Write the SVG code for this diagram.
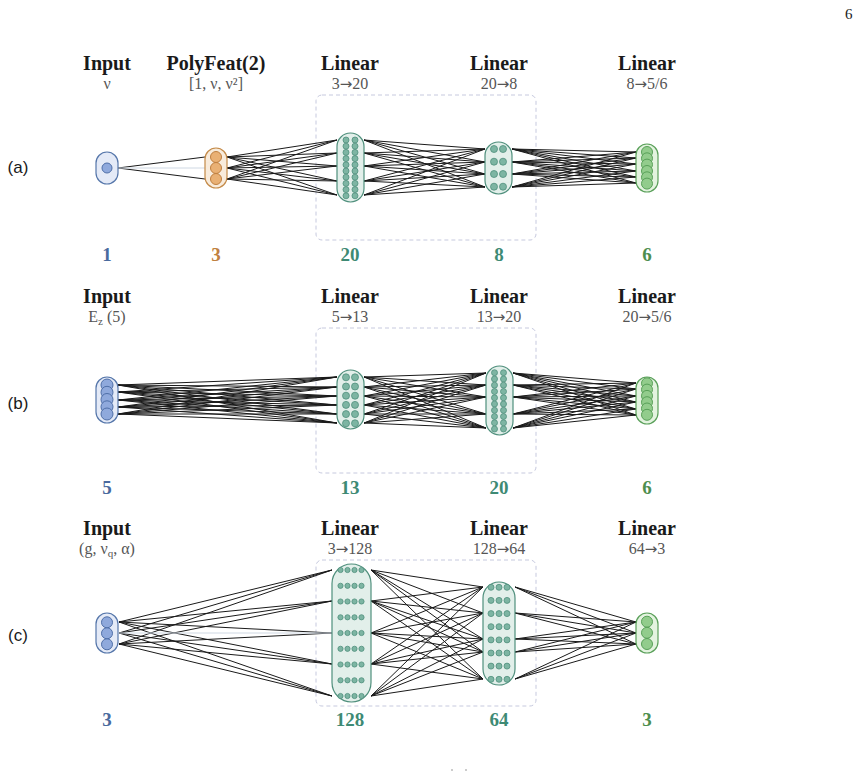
<svg xmlns="http://www.w3.org/2000/svg" width="861" height="771" viewBox="0 0 861 771">
<style>
.ttl{font-family:"Liberation Serif","DejaVu Serif",serif;font-weight:bold;font-size:20px;fill:#1a1a1a;text-anchor:middle}
.sub{font-family:"Liberation Serif","DejaVu Serif",serif;font-size:16px;fill:#555;text-anchor:middle}
.ar{font-family:"DejaVu Sans",sans-serif;font-size:15px}
.num{font-family:"Liberation Serif","DejaVu Serif",serif;font-weight:bold;font-size:19px;text-anchor:middle}
.pl{font-family:"Liberation Sans","DejaVu Sans",sans-serif;font-size:17px;fill:#1a1a1a;text-anchor:middle}
.pg{font-family:"Liberation Serif","DejaVu Serif",serif;font-size:15px;fill:#1a1a1a}
.box{fill:none;stroke:#c6c9de;stroke-width:1;stroke-dasharray:4 3}
.w{fill:none;stroke:#1a1a1a;stroke-width:1}
.wl{fill:none;stroke:#cfd8e3;stroke-width:1}
.ci{fill:#e4eaf7;stroke:#5576aa;stroke-width:1.2}
.ni{fill:#8fa9dc;stroke:#4f6fa8;stroke-width:1}
.cp{fill:#f8ebdb;stroke:#c48a48;stroke-width:1.2}
.np{fill:#e9b074;stroke:#c08040;stroke-width:1}
.cl{fill:#e2efea;stroke:#4f8f7c;stroke-width:1.2}
.nl{fill:#7db5a3;stroke:#4f8f7c;stroke-width:0.8}
.co{fill:#e3f3df;stroke:#5aa05a;stroke-width:1.2}
.no{fill:#92cc8c;stroke:#58a058;stroke-width:1}
.blue{fill:#4a6a9e}.orange{fill:#c08040}.teal{fill:#3e8a74}.green{fill:#4e8e4e}
</style>
<rect width="861" height="771" fill="#fff"/>
<text class="pg" x="845" y="19">6</text>

<!-- panel labels -->
<text class="pl" x="18" y="173">(a)</text>
<text class="pl" x="18" y="409">(b)</text>
<text class="pl" x="18" y="641">(c)</text>

<!-- dashed boxes -->
<rect class="box" x="316" y="95" width="220" height="145" rx="6"/>
<rect class="box" x="316" y="328" width="220" height="145" rx="6"/>
<rect class="box" x="316" y="560" width="220" height="146" rx="6"/>

<g id="connectors">
<!-- (a) -->
<path class="w" d="M118 168L205 157M118 168L205 179"/>
<path class="wl" d="M118 168L205 168"/>
<path class="w" d="M227 157L337 140M227 157L337 153M227 157L337 166M227 157L337 181M227 157L337 195M227 168L337 140M227 168L337 153M227 168L337 166M227 168L337 181M227 168L337 195M227 179L337 140M227 179L337 153M227 179L337 166M227 179L337 181M227 179L337 195"/>
<path class="w" d="M364 140L485 149M364 140L485 162M364 140L485 174M364 140L485 187M364 153L485 149M364 153L485 162M364 153L485 174M364 153L485 187M364 166L485 149M364 166L485 162M364 166L485 174M364 166L485 187M364 181L485 149M364 181L485 162M364 181L485 174M364 181L485 187M364 195L485 149M364 195L485 162M364 195L485 174M364 195L485 187"/>
<path class="w" d="M512 149L636 152M512 149L636 158M512 149L636 164M512 149L636 171M512 149L636 177M512 149L636 183M512 162L636 152M512 162L636 158M512 162L636 164M512 162L636 171M512 162L636 177M512 162L636 183M512 174L636 152M512 174L636 158M512 174L636 164M512 174L636 171M512 174L636 177M512 174L636 183M512 187L636 152M512 187L636 158M512 187L636 164M512 187L636 171M512 187L636 177M512 187L636 183"/>
<!-- (b) -->
<path class="w" d="M118 385L337 377M118 385L337 387M118 385L337 396M118 385L337 405M118 385L337 414M118 385L337 423M118 392L337 377M118 392L337 387M118 392L337 396M118 392L337 405M118 392L337 414M118 392L337 423M118 400L337 377M118 400L337 387M118 400L337 396M118 400L337 405M118 400L337 414M118 400L337 423M118 407L337 377M118 407L337 387M118 407L337 396M118 407L337 405M118 407L337 414M118 407L337 423M118 414L337 377M118 414L337 387M118 414L337 396M118 414L337 405M118 414L337 414M118 414L337 423"/>
<path class="w" d="M364 377L486 373M364 377L486 385M364 377L486 397M364 377L486 414M364 377L486 428M364 387L486 373M364 387L486 385M364 387L486 397M364 387L486 414M364 387L486 428M364 396L486 373M364 396L486 385M364 396L486 397M364 396L486 414M364 396L486 428M364 405L486 373M364 405L486 385M364 405L486 397M364 405L486 414M364 405L486 428M364 414L486 373M364 414L486 385M364 414L486 397M364 414L486 414M364 414L486 428M364 423L486 373M364 423L486 385M364 423L486 397M364 423L486 414M364 423L486 428"/>
<path class="w" d="M513 373L636 383M513 373L636 389M513 373L636 396M513 373L636 402M513 373L636 409M513 373L636 415M513 385L636 383M513 385L636 389M513 385L636 396M513 385L636 402M513 385L636 409M513 385L636 415M513 397L636 383M513 397L636 389M513 397L636 396M513 397L636 402M513 397L636 409M513 397L636 415M513 414L636 383M513 414L636 389M513 414L636 396M513 414L636 402M513 414L636 409M513 414L636 415M513 428L636 383M513 428L636 389M513 428L636 396M513 428L636 402M513 428L636 409M513 428L636 415"/>
<!-- (c) -->
<path class="w" d="M119 622L332 570M119 622L332 601M119 622L332 633M119 622L332 664M119 622L332 696M119 633L332 570M119 633L332 601M119 633L332 664M119 633L332 696M119 644L332 570M119 644L332 601M119 644L332 633M119 644L332 664M119 644L332 696"/>
<path class="wl" d="M119 633L332 633"/>
<path class="w" d="M371 570L483 587M371 570L483 613M371 570L483 639M371 570L483 652M371 570L483 679M371 601L483 587M371 601L483 613M371 601L483 639M371 601L483 652M371 601L483 679M371 633L483 587M371 633L483 613M371 633L483 639M371 633L483 652M371 633L483 679M371 664L483 587M371 664L483 613M371 664L483 639M371 664L483 652M371 664L483 679M371 696L483 587M371 696L483 613M371 696L483 639M371 696L483 652M371 696L483 679"/>
<path class="w" d="M515 587L636 622M515 587L636 633M515 587L636 644M515 613L636 622M515 613L636 633M515 613L636 644M515 639L636 622M515 639L636 633M515 639L636 644M515 652L636 622M515 652L636 633M515 652L636 644M515 679L636 622M515 679L636 633M515 679L636 644"/>
</g>

<!-- ===== Panel (a) ===== -->
<g id="a-input">
<text class="ttl" x="107" y="70">Input</text>
<text class="sub" x="107" y="89">ν</text>
<rect class="ci" x="96" y="152" width="22" height="32" rx="11"/>
<circle class="ni" cx="107" cy="168" r="5"/>
<text class="num blue" x="107" y="261">1</text>
</g>
<g id="a-poly">
<text class="ttl" x="216" y="70">PolyFeat(2)</text>
<text class="sub" x="216" y="89">[1, ν, ν²]</text>
<rect class="cp" x="205" y="148" width="22" height="40" rx="11"/>
<circle class="np" cx="216" cy="157" r="5.5"/>
<circle class="np" cx="216" cy="168" r="5.5"/>
<circle class="np" cx="216" cy="179" r="5.5"/>
<text class="num orange" x="216" y="261">3</text>
</g>
<g id="a-lin1">
<text class="ttl" x="350" y="70">Linear</text>
<text class="sub" x="350" y="89">3<tspan class="ar">→</tspan>20</text>
<rect class="cl" x="337" y="133" width="27" height="69" rx="13.5"/>
<g class="nl">
<circle cx="346" cy="140" r="3"/><circle cx="355" cy="140" r="3"/>
<circle cx="346" cy="146.2" r="3"/><circle cx="355" cy="146.2" r="3"/>
<circle cx="346" cy="152.4" r="3"/><circle cx="355" cy="152.4" r="3"/>
<circle cx="346" cy="158.6" r="3"/><circle cx="355" cy="158.6" r="3"/>
<circle cx="346" cy="164.8" r="3"/><circle cx="355" cy="164.8" r="3"/>
<circle cx="346" cy="171" r="3"/><circle cx="355" cy="171" r="3"/>
<circle cx="346" cy="177.2" r="3"/><circle cx="355" cy="177.2" r="3"/>
<circle cx="346" cy="183.4" r="3"/><circle cx="355" cy="183.4" r="3"/>
<circle cx="346" cy="189.6" r="3"/><circle cx="355" cy="189.6" r="3"/>
<circle cx="346" cy="195.8" r="3"/><circle cx="355" cy="195.8" r="3"/>
</g>
<text class="num teal" x="350" y="261">20</text>
</g>
<g id="a-lin2">
<text class="ttl" x="499" y="70">Linear</text>
<text class="sub" x="499" y="89">20<tspan class="ar">→</tspan>8</text>
<rect class="cl" x="485" y="142" width="27" height="52" rx="13.5"/>
<g class="nl">
<circle cx="494" cy="149" r="3.5"/><circle cx="503" cy="149" r="3.5"/>
<circle cx="494" cy="161.7" r="3.5"/><circle cx="503" cy="161.7" r="3.5"/>
<circle cx="494" cy="174" r="3.5"/><circle cx="503" cy="174" r="3.5"/>
<circle cx="494" cy="186.7" r="3.5"/><circle cx="503" cy="186.7" r="3.5"/>
</g>
<text class="num teal" x="499" y="261">8</text>
</g>
<g id="a-lin3">
<text class="ttl" x="647" y="70">Linear</text>
<text class="sub" x="647" y="89">8<tspan class="ar">→</tspan>5/6</text>
<rect class="co" x="636" y="144" width="22" height="48" rx="11"/>
<g class="no">
<circle cx="647" cy="152" r="5.5"/><circle cx="647" cy="158.3" r="5.5"/><circle cx="647" cy="164.6" r="5.5"/>
<circle cx="647" cy="171" r="5.5"/><circle cx="647" cy="177.3" r="5.5"/><circle cx="647" cy="183.6" r="5.5"/>
</g>
<text class="num green" x="647" y="261">6</text>
</g>

<!-- ===== Panel (b) ===== -->
<g id="b-input">
<text class="ttl" x="107" y="303">Input</text>
<text class="sub" x="107" y="322">E<tspan font-size="11" dy="3">z</tspan><tspan dy="-3"> (5)</tspan></text>
<rect class="ci" x="96" y="377" width="22" height="46" rx="11"/>
<g class="ni">
<circle cx="107" cy="385" r="6"/><circle cx="107" cy="392.3" r="6"/><circle cx="107" cy="399.5" r="6"/>
<circle cx="107" cy="406.8" r="6"/><circle cx="107" cy="414" r="6"/>
</g>
<text class="num blue" x="107" y="494">5</text>
</g>
<g id="b-lin1">
<text class="ttl" x="350" y="303">Linear</text>
<text class="sub" x="350" y="322">5<tspan class="ar">→</tspan>13</text>
<rect class="cl" x="337" y="370" width="27" height="59" rx="13.5"/>
<g class="nl">
<circle cx="346" cy="377.3" r="3.5"/><circle cx="355" cy="377.3" r="3.5"/>
<circle cx="346" cy="386.5" r="3.5"/><circle cx="355" cy="386.5" r="3.5"/>
<circle cx="346" cy="395.7" r="3.5"/><circle cx="355" cy="395.7" r="3.5"/>
<circle cx="346" cy="404.9" r="3.5"/><circle cx="355" cy="404.9" r="3.5"/>
<circle cx="346" cy="414.1" r="3.5"/><circle cx="355" cy="414.1" r="3.5"/>
<circle cx="346" cy="423.3" r="3.5"/><circle cx="355" cy="423.3" r="3.5"/>
</g>
<text class="num teal" x="350" y="494">13</text>
</g>
<g id="b-lin2">
<text class="ttl" x="499" y="303">Linear</text>
<text class="sub" x="499" y="322">13<tspan class="ar">→</tspan>20</text>
<rect class="cl" x="486" y="366" width="27" height="69" rx="13.5"/>
<g class="nl">
<circle cx="494.5" cy="372.7" r="3"/><circle cx="503.5" cy="372.7" r="3"/>
<circle cx="494.5" cy="379" r="3"/><circle cx="503.5" cy="379" r="3"/>
<circle cx="494.5" cy="385.2" r="3"/><circle cx="503.5" cy="385.2" r="3"/>
<circle cx="494.5" cy="391.5" r="3"/><circle cx="503.5" cy="391.5" r="3"/>
<circle cx="494.5" cy="397.8" r="3"/><circle cx="503.5" cy="397.8" r="3"/>
<circle cx="494.5" cy="404" r="3"/><circle cx="503.5" cy="404" r="3"/>
<circle cx="494.5" cy="410.3" r="3"/><circle cx="503.5" cy="410.3" r="3"/>
<circle cx="494.5" cy="416.5" r="3"/><circle cx="503.5" cy="416.5" r="3"/>
<circle cx="494.5" cy="422.8" r="3"/><circle cx="503.5" cy="422.8" r="3"/>
<circle cx="494.5" cy="429" r="3"/><circle cx="503.5" cy="429" r="3"/>
</g>
<text class="num teal" x="499" y="494">20</text>
</g>
<g id="b-lin3">
<text class="ttl" x="647" y="303">Linear</text>
<text class="sub" x="647" y="322">20<tspan class="ar">→</tspan>5/6</text>
<rect class="co" x="636" y="377" width="22" height="47" rx="11"/>
<g class="no">
<circle cx="647" cy="383.3" r="5.5"/><circle cx="647" cy="389.6" r="5.5"/><circle cx="647" cy="395.9" r="5.5"/>
<circle cx="647" cy="402.2" r="5.5"/><circle cx="647" cy="408.5" r="5.5"/><circle cx="647" cy="414.8" r="5.5"/>
</g>
<text class="num green" x="647" y="494">6</text>
</g>

<!-- ===== Panel (c) ===== -->
<g id="c-input">
<text class="ttl" x="107" y="535">Input</text>
<text class="sub" x="107" y="554">(g, ν<tspan font-size="11" dy="3">q</tspan><tspan dy="-3">, α)</tspan></text>
<rect class="ci" x="96" y="613" width="22" height="40" rx="11"/>
<g class="ni">
<circle cx="107" cy="622.3" r="5.5"/><circle cx="107" cy="633.3" r="5.5"/><circle cx="107" cy="644.3" r="5.5"/>
</g>
<text class="num blue" x="107" y="726">3</text>
</g>
<g id="c-lin1">
<text class="ttl" x="350" y="535">Linear</text>
<text class="sub" x="350" y="554">3<tspan class="ar">→</tspan>128</text>
<rect class="cl" x="332" y="564" width="39" height="138" rx="19.5"/>
<g class="nl">
<circle cx="340.5" cy="570" r="2.6"/><circle cx="347.5" cy="570" r="2.6"/><circle cx="354.5" cy="570" r="2.6"/><circle cx="361.5" cy="570" r="2.6"/>
<circle cx="340.5" cy="585.8" r="2.6"/><circle cx="347.5" cy="585.8" r="2.6"/><circle cx="354.5" cy="585.8" r="2.6"/><circle cx="361.5" cy="585.8" r="2.6"/>
<circle cx="340.5" cy="601.5" r="2.6"/><circle cx="347.5" cy="601.5" r="2.6"/><circle cx="354.5" cy="601.5" r="2.6"/><circle cx="361.5" cy="601.5" r="2.6"/>
<circle cx="340.5" cy="617.3" r="2.6"/><circle cx="347.5" cy="617.3" r="2.6"/><circle cx="354.5" cy="617.3" r="2.6"/><circle cx="361.5" cy="617.3" r="2.6"/>
<circle cx="340.5" cy="633" r="2.6"/><circle cx="347.5" cy="633" r="2.6"/><circle cx="354.5" cy="633" r="2.6"/><circle cx="361.5" cy="633" r="2.6"/>
<circle cx="340.5" cy="648.8" r="2.6"/><circle cx="347.5" cy="648.8" r="2.6"/><circle cx="354.5" cy="648.8" r="2.6"/><circle cx="361.5" cy="648.8" r="2.6"/>
<circle cx="340.5" cy="664.5" r="2.6"/><circle cx="347.5" cy="664.5" r="2.6"/><circle cx="354.5" cy="664.5" r="2.6"/><circle cx="361.5" cy="664.5" r="2.6"/>
<circle cx="340.5" cy="680.3" r="2.6"/><circle cx="347.5" cy="680.3" r="2.6"/><circle cx="354.5" cy="680.3" r="2.6"/><circle cx="361.5" cy="680.3" r="2.6"/>
<circle cx="340.5" cy="696" r="2.6"/><circle cx="347.5" cy="696" r="2.6"/><circle cx="354.5" cy="696" r="2.6"/><circle cx="361.5" cy="696" r="2.6"/>
</g>
<text class="num teal" x="350" y="726">128</text>
</g>
<g id="c-lin2">
<text class="ttl" x="499" y="535">Linear</text>
<text class="sub" x="499" y="554">128<tspan class="ar">→</tspan>64</text>
<rect class="cl" x="483" y="582" width="32" height="103" rx="16"/>
<g class="nl">
<circle cx="491" cy="587.3" r="3"/><circle cx="499" cy="587.3" r="3"/><circle cx="507" cy="587.3" r="3"/>
<circle cx="491" cy="600.4" r="3"/><circle cx="499" cy="600.4" r="3"/><circle cx="507" cy="600.4" r="3"/>
<circle cx="491" cy="613.6" r="3"/><circle cx="499" cy="613.6" r="3"/><circle cx="507" cy="613.6" r="3"/>
<circle cx="491" cy="626.7" r="3"/><circle cx="499" cy="626.7" r="3"/><circle cx="507" cy="626.7" r="3"/>
<circle cx="491" cy="639.9" r="3"/><circle cx="499" cy="639.9" r="3"/><circle cx="507" cy="639.9" r="3"/>
<circle cx="491" cy="653" r="3"/><circle cx="499" cy="653" r="3"/><circle cx="507" cy="653" r="3"/>
<circle cx="491" cy="666.1" r="3"/><circle cx="499" cy="666.1" r="3"/><circle cx="507" cy="666.1" r="3"/>
<circle cx="491" cy="679.3" r="3"/><circle cx="499" cy="679.3" r="3"/><circle cx="507" cy="679.3" r="3"/>
</g>
<text class="num teal" x="499" y="726">64</text>
</g>
<g id="c-lin3">
<text class="ttl" x="647" y="535">Linear</text>
<text class="sub" x="647" y="554">64<tspan class="ar">→</tspan>3</text>
<rect class="co" x="636" y="613" width="22" height="40" rx="11"/>
<g class="no">
<circle cx="647" cy="621.7" r="5.5"/><circle cx="647" cy="632.8" r="5.5"/><circle cx="647" cy="644" r="5.5"/>
</g>
<text class="num green" x="647" y="726">3</text>
</g>

<rect x="451" y="769" width="2" height="2" fill="#ccc"/>
<rect x="465" y="769" width="2" height="2" fill="#ccc"/>
</svg>
